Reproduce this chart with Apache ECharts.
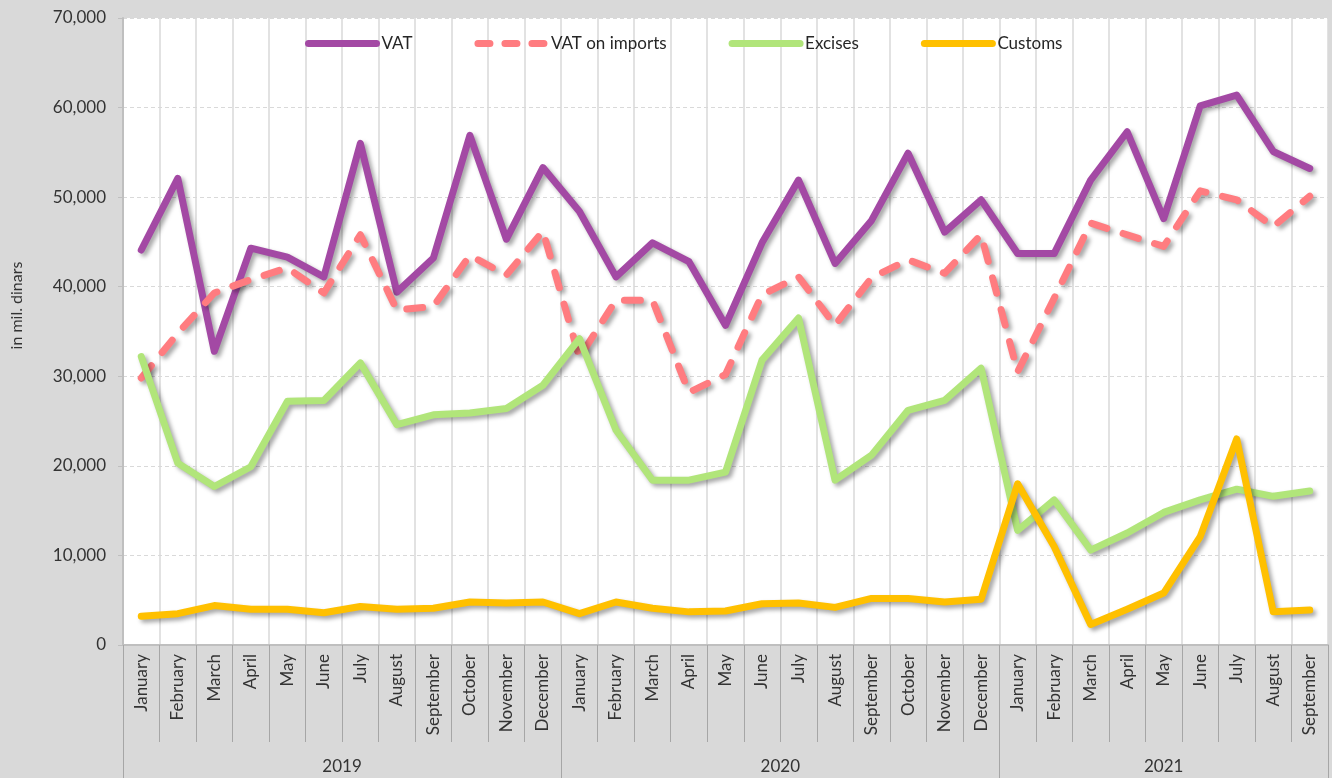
<!DOCTYPE html>
<html>
<head>
<meta charset="utf-8">
<script src="https://cdn.jsdelivr.net/npm/echarts@6/dist/echarts.min.js"></script>
<style>
  html, body { margin: 0; padding: 0; background: #d9d9d9; }
  #chart { width: 1332px; height: 778px; }
</style>
</head>
<body>
<div id="chart"></div>
<script>
// Monthly tax revenue, in millions of dinars
const years = ['2019', '2020', '2021'];
const monthsPerYear = [12, 12, 9];
const monthNames = ['January', 'February', 'March', 'April', 'May', 'June',
  'July', 'August', 'September', 'October', 'November', 'December'];

const seriesNames = ['VAT', 'VAT on imports', 'Excises', 'Customs'];

const vat = [44100, 52100, 32800, 44300, 43300, 41100, 56000, 39400, 43200, 56900, 45300, 53300,
  48400, 41100, 44900, 42800, 35700, 44900, 51900, 42600, 47400, 54900, 46100, 49700,
  43700, 43700, 51900, 57300, 47600, 60200, 61400, 55100, 53200];

const vatImports = [29800, 34800, 39300, 40800, 42100, 39300, 45800, 37400, 37800, 43500, 41300, 46200,
  32100, 38500, 38500, 28200, 30200, 39100, 41100, 35700, 41000, 43000, 41500, 45800,
  30500, 38700, 47100, 45800, 44500, 50700, 49700, 46700, 50100];

const excises = [32200, 20300, 17700, 19900, 27200, 27300, 31500, 24600, 25700, 25900, 26400, 29000,
  34200, 24000, 18400, 18400, 19300, 31800, 36500, 18400, 21200, 26200, 27300, 30900,
  12800, 16200, 10600, 12500, 14800, 16200, 17400, 16600, 17200];

const customs = [3200, 3500, 4400, 4000, 4000, 3600, 4300, 4000, 4100, 4800, 4700, 4800,
  3500, 4800, 4100, 3700, 3800, 4600, 4700, 4200, 5200, 5200, 4800, 5100,
  18000, 11000, 2300, 4000, 5800, 12100, 23000, 3700, 3900];

const yMin = 0, yMax = 70000, yStep = 10000;

// Month categories for the lower axis
const monthCats = [];
monthsPerYear.forEach(n => { for (let i = 0; i < n; i++) monthCats.push(monthNames[i]); });

// Year axis in half-month steps: labels at the middle of each year, ticks at year boundaries
const totalHalf = monthCats.length * 2;
const yearCats = new Array(totalHalf + 1).fill('');
const yearBounds = new Set([0]);
let start = 0;
years.forEach((y, k) => {
  yearCats[start * 2 + monthsPerYear[k]] = y;
  start += monthsPerYear[k];
  yearBounds.add(start * 2);
});

const colors = ['#a349a4', '#ff7c80', '#b1e57a', '#ffc000'];
const values = [vat, vatImports, excises, customs];
const FONT = 'Lato, "Open Sans", sans-serif';

const shadow = { shadowColor: 'rgba(0,0,0,0.35)', shadowBlur: 4, shadowOffsetX: 3, shadowOffsetY: 3 };

const chart = echarts.init(document.getElementById('chart'), null, { renderer: 'canvas' });
chart.setOption({
  animation: false,
  backgroundColor: '#d9d9d9',
  textStyle: { fontFamily: FONT },
  grid: { left: 123, right: 4, top: 18, bottom: 133, show: true, backgroundColor: '#ffffff', borderWidth: 0 },
  legend: {
    left: 300, top: 30,
    itemWidth: 68, itemHeight: 14, itemGap: 62,
    textStyle: { fontSize: 17, color: '#262626', fontFamily: FONT },
    itemStyle: { opacity: 0 },
    lineStyle: { width: 7, cap: 'round', shadowBlur: 0, shadowOffsetX: 0, shadowOffsetY: 0, shadowColor: 'transparent' },
    data: seriesNames.map((n, i) => i === 1
      ? { name: n, lineStyle: { type: [12, 15], width: 7, cap: 'round' } }
      : { name: n })
  },
  xAxis: [
    {
      type: 'category', data: monthCats, boundaryGap: true,
      axisLine: { show: true, lineStyle: { color: '#bfbfbf', width: 2 } },
      axisTick: { show: true, interval: 0, length: 97, lineStyle: { color: '#a6a6a6', width: 1 } },
      axisLabel: { interval: 0, rotate: 90, margin: 9, fontSize: 17, color: '#333333', fontFamily: FONT },
      splitLine: { show: true, interval: 0, lineStyle: { color: '#d9d9d9', width: 1.5 } }
    },
    {
      type: 'category', data: yearCats, boundaryGap: false, position: 'bottom',
      axisLine: { show: false },
      axisTick: { show: true, length: 133, interval: (i) => yearBounds.has(i), lineStyle: { color: '#a6a6a6', width: 1 } },
      axisLabel: { interval: (i, v) => v !== '', margin: 113, fontSize: 17, color: '#333333', fontFamily: FONT },
      splitLine: { show: false }
    }
  ],
  yAxis: {
    type: 'value', min: yMin, max: yMax, interval: yStep,
    name: 'in mil. dinars', nameLocation: 'middle', nameGap: 98,
    nameTextStyle: { fontSize: 16, color: '#333333', fontFamily: FONT, padding: [0, 0, 0, 52] },
    axisLine: { show: true, lineStyle: { color: '#bfbfbf', width: 2 } },
    axisTick: { show: true, length: 5, lineStyle: { color: '#bfbfbf' } },
    axisLabel: { margin: 17, fontSize: 17, color: '#333333', fontFamily: FONT,
      formatter: v => v.toLocaleString('en-US') },
    splitLine: { show: true, lineStyle: { color: '#d9d9d9', type: [4, 3], width: 1 } }
  },
  series: seriesNames.map((n, i) => ({
    name: n, type: 'line', data: values[i], symbol: 'none',
    itemStyle: { color: colors[i] },
    lineStyle: Object.assign({ width: 7, color: colors[i], cap: 'round', join: 'round',
      type: i === 1 ? [16, 17] : 'solid' }, shadow),
    z: 2 + i
  }))
});
</script>
</body>
</html>
